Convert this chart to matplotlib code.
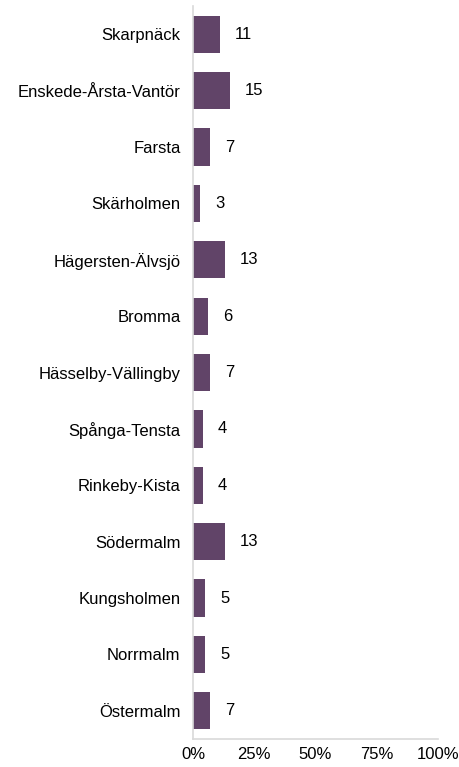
import matplotlib
matplotlib.use("Agg")
import matplotlib.pyplot as plt

categories = ["Skarpnäck", "Enskede-Årsta-Vantör", "Farsta", "Skärholmen",
              "Hägersten-Älvsjö", "Bromma", "Hässelby-Vällingby", "Spånga-Tensta",
              "Rinkeby-Kista", "Södermalm", "Kungsholmen", "Norrmalm", "Östermalm"]
values = [11, 15, 7, 3, 13, 6, 7, 4, 4, 13, 5, 5, 7]
xticks = [0, 25, 50, 75, 100]
xticklabels = ["0%", "25%", "50%", "75%", "100%"]

plt.rcParams['font.family'] = ['Liberation Sans', 'DejaVu Sans']
FS = 12

fig = plt.figure(figsize=(4.6, 7.67), dpi=100)
ax = fig.add_axes([0.4196, 0.0365, 0.5324, 0.9555])

y = list(range(len(categories)))
ax.barh(y, values, height=0.66, color="#614468")
for yi, v in zip(y, values):
    ax.annotate(str(v), (v, yi), xytext=(11, 0), textcoords="offset points",
                va="center", ha="left", fontsize=FS, color="#000000")

ax.set_yticks(y)
ax.set_yticklabels(categories, fontsize=FS, color="#000000")
ax.set_ylim(len(categories) - 0.5, -0.5)
ax.set_xlim(0, 100)
ax.set_xticks(xticks)
ax.set_xticklabels(xticklabels, fontsize=FS, color="#000000")
ax.tick_params(axis="both", length=0)
ax.tick_params(axis="x", pad=6)
ax.tick_params(axis="y", pad=9)
for s in ["top", "right"]:
    ax.spines[s].set_visible(False)
for s in ["left", "bottom"]:
    ax.spines[s].set_color("#d9d9d9")
    ax.spines[s].set_linewidth(1.2)

fig.savefig("out.png", dpi=100)
